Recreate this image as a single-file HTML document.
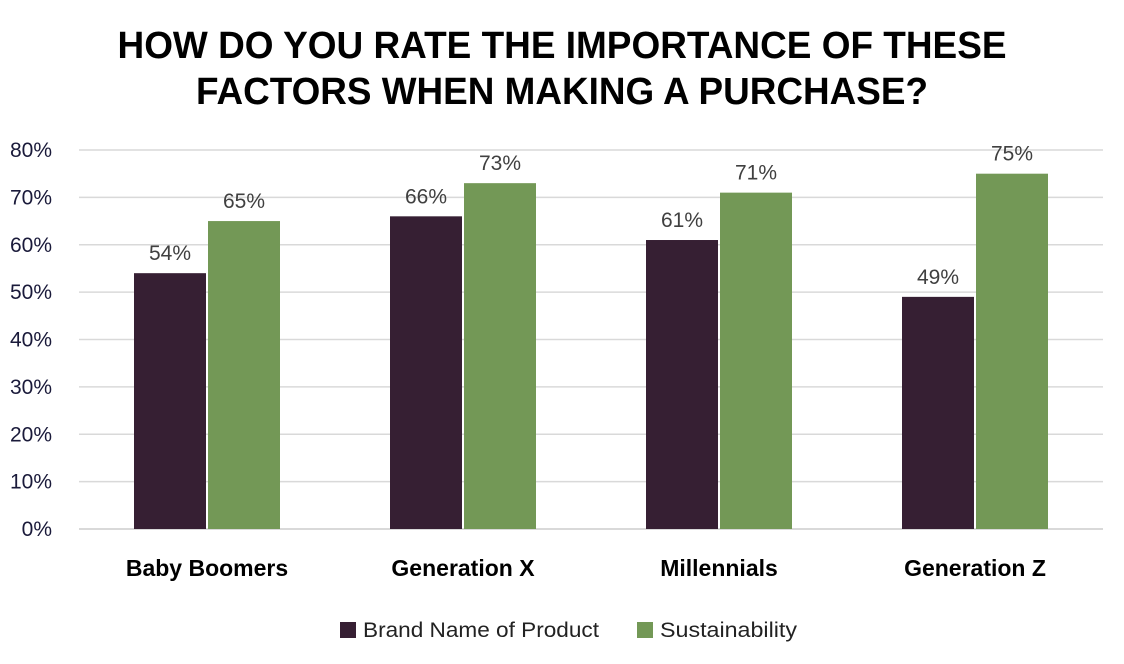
<!DOCTYPE html>
<html><head><meta charset="utf-8"><style>
body{margin:0;background:#fff;}
svg{display:block;font-family:"Liberation Sans Narrow","Liberation Sans",sans-serif;}
</style></head><body>
<svg id="chart" width="1124" height="664" viewBox="0 0 1124 664">
<text x="562" y="58" text-anchor="middle" font-size="38" font-weight="bold" fill="#000" textLength="889" lengthAdjust="spacingAndGlyphs">HOW DO YOU RATE THE IMPORTANCE OF THESE</text>
<text x="562" y="104" text-anchor="middle" font-size="38" font-weight="bold" fill="#000" textLength="732" lengthAdjust="spacingAndGlyphs">FACTORS WHEN MAKING A PURCHASE?</text>
<g id="grid"></g><g id="bars"></g><g id="labels"></g>
<g>
<rect x="340" y="622" width="16" height="16" fill="#361f33"/>
<text x="363" y="637" font-size="21" fill="#222" textLength="236" lengthAdjust="spacingAndGlyphs">Brand Name of Product</text>
<rect x="637" y="622" width="16" height="16" fill="#739856"/>
<text x="660" y="637" font-size="21" fill="#222" textLength="137" lengthAdjust="spacingAndGlyphs">Sustainability</text>
</g>
</svg>
<script>
const categories=["Baby Boomers","Generation X","Millennials","Generation Z"];
const brandValues=[54,66,61,49];
const sustainValues=[65,73,71,75];
const yTicks=[0,10,20,30,40,50,60,70,80];
const NS="http://www.w3.org/2000/svg";
const x0=79,x1=1103,y0=529,yTop=150,yMax=80;
const y=v=>y0-(v/yMax)*(y0-yTop);
const band=(x1-x0)/categories.length;
const cx=i=>x0+band*(i+0.5);
function mk(tag,attrs,parent){const e=document.createElementNS(NS,tag);for(const k in attrs)e.setAttribute(k,attrs[k]);document.getElementById(parent).appendChild(e);return e;}
yTicks.forEach(t=>{
  const l=mk('line',{x1:x0,x2:x1,y1:y(t),y2:y(t),stroke:'#d9d9d9','stroke-width':t===0?2:1.5},'grid');
  
  
  const tx=mk('text',{x:52,y:y(t)+7,'text-anchor':'end','font-size':21,fill:'#1a1a3a'},'grid');
  tx.textContent=t+'%';
  
  
});
const bw=72,gap=2;
categories.forEach((c,i)=>{
  [[brandValues[i],'#361f33',-1,'brand'],[sustainValues[i],'#739856',1,'sustainability']].forEach(([v,col,s,n])=>{
    const bx=s<0?cx(i)-gap/2-bw:cx(i)+gap/2;
    const r=mk('rect',{x:bx,y:y(v),width:bw,height:y0-y(v),fill:col},'bars');
    
    
    const t=mk('text',{x:bx+bw/2,y:y(v)-13,'text-anchor':'middle','font-size':21,fill:'#404040'},'labels');
    t.textContent=v+'%';
    
    
  });
  const cl=mk('text',{x:cx(i),y:576,'text-anchor':'middle','font-size':23,'font-weight':'bold',fill:'#000'},'labels');
  cl.textContent=c;
  
  
});
</script>
</body></html>
